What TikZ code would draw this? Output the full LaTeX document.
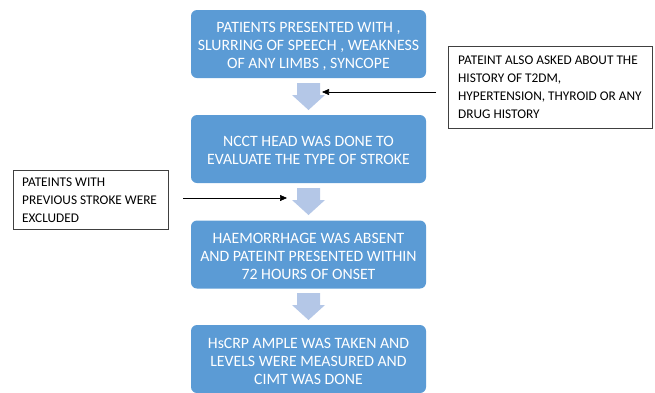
\documentclass[tikz,border=0pt]{standalone}
\usepackage{fontspec}
\setmainfont{Carlito}
\usetikzlibrary{arrows.meta,shapes.arrows}
\definecolor{boxblue}{HTML}{5B9BD5}
\definecolor{arrblue}{HTML}{B4C7E7}
\begin{document}
\begin{tikzpicture}[x=1pt,y=-1pt,
  stepbox/.style={fill=boxblue,draw=none,rounded corners=6pt,minimum width=235pt,minimum height=68pt,inner sep=0pt},
  steptext/.style={text=white,align=center,font=\fontsize{15.8}{18}\selectfont,inner sep=0pt},
  notebox/.style={align=left,anchor=north west,font=\fontsize{13.3}{18}\selectfont,inner sep=0pt},
  frame/.style={draw=black!75,line width=0.6pt},
  blockarrow/.style={fill=arrblue,draw=none},
  pointer/.style={-{Triangle[length=7pt,width=6pt]},line width=0.6pt}]
\useasboundingbox (0,0) rectangle (655,392);
\node[stepbox] (b1) at (308.5,44) {};
\node[steptext] (b1t) at ([yshift=-2.5pt]b1.center) {PATIENTS PRESENTED WITH ,\\SLURRING OF SPEECH , WEAKNESS\\OF ANY LIMBS , SYNCOPE};
\node[stepbox] (b2) at (308.5,149) {};
\node[steptext] (b2t) at ([yshift=-1pt]b2.center) {NCCT HEAD WAS DONE TO\\EVALUATE THE TYPE OF STROKE};
\node[stepbox] (b3) at (308.5,254.5) {};
\node[steptext] (b3t) at ([yshift=-2pt]b3.center) {HAEMORRHAGE WAS ABSENT\\AND PATEINT PRESENTED WITHIN\\72 HOURS OF ONSET};
\node[stepbox] (b4) at (308.5,359) {};
\node[steptext] (b4t) at ([yshift=-2.5pt]b4.center) {HsCRP AMPLE WAS TAKEN AND\\LEVELS WERE MEASURED AND\\CIMT WAS DONE};
% block arrows
\foreach \t in {83,188,293}{
  \fill[blockarrow] (297,\t) -- (320,\t) -- (320,\t+12) -- (325,\t+12) -- (308.5,\t+27) -- (292,\t+12) -- (297,\t+12) -- cycle;
}
% note boxes
\draw[frame] (448,46) rectangle (652,128);
\node[notebox] (n1) at (458,56) {PATEINT ALSO ASKED ABOUT THE\\HISTORY OF T2DM,\\HYPERTENSION, THYROID OR ANY\\DRUG HISTORY};
\coordinate (n1L) at (436,92);
\coordinate (t1) at (322,92);
\draw[pointer] (n1L) -- (t1);
\draw[frame] (13,170) rectangle (168,229);
\node[notebox] (n2) at (22,178) {PATEINTS WITH\\PREVIOUS STROKE WERE\\EXCLUDED};
\coordinate (s2) at (183,198);
\coordinate (t2) at (287,198);
\draw[pointer] (s2) -- (t2);
\end{tikzpicture}
\end{document}
